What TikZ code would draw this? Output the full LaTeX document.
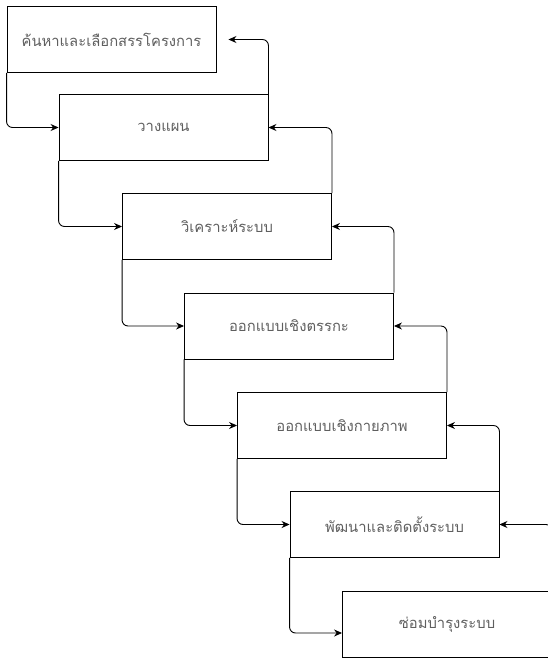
\documentclass[tikz,border=0pt]{standalone}
\usepackage{fontspec}
\newfontfamily\thaifont[Script=Thai]{Loma}
\usetikzlibrary{arrows.meta}
\definecolor{labelgray}{RGB}{95,95,95}
\begin{document}
\begin{tikzpicture}[x=1pt, y=-1pt,
  stage/.style={shape=rectangle, draw=black, line width=0.9pt, minimum width=209pt, minimum height=66pt,
    font=\thaifont\fontsize{14.8}{17}\selectfont, text=labelgray, inner sep=0pt},
  flow/.style={-{Stealth[length=8pt, width=7pt]}, line width=0.9pt, draw=black, rounded corners=6pt}]
\useasboundingbox (0,0) rectangle (548,659);
\node[stage] (b1) at (111.5, 39.5) {ค้นหาและเลือกสรรโครงการ};
\node[stage] (b2) at (163.5, 127.5) {วางแผน};
\node[stage] (b3) at (227, 226.5) {วิเคราะห์ระบบ};
\node[stage] (b4) at (289, 326) {ออกแบบเชิงตรรกะ};
\node[stage] (b5) at (342, 425.5) {ออกแบบเชิงกายภาพ};
\node[stage] (b6) at (394.5, 524.5) {พัฒนาและติดตั้งระบบ};
\node[stage] (b7) at (447, 624) {ซ่อมบำรุงระบบ};
% downward steps
\draw [flow] (b1.south west) |- (b2.west);
\draw [flow] (b2.south west) |- (b3.west);
\draw [flow] (b3.south west) |- (b4.west);
\draw [flow] (b4.south west) |- (b5.west);
\draw [flow] (b5.south west) |- (b6.west);
\draw [flow] (b6.south west) |- ([yshift=-9pt]b7.west);
% feedback
\draw [flow, shorten >=12pt] (b2.north east) |- (b1.east);
\draw [flow] (b3.north east) |- (b2.east);
\draw [flow] (b4.north east) |- (b3.east);
\draw [flow] (b5.north east) |- (b4.east);
\draw [flow] (b6.north east) |- (b5.east);
\draw [flow] (b7.north east) |- (b6.east);
\end{tikzpicture}
\end{document}
